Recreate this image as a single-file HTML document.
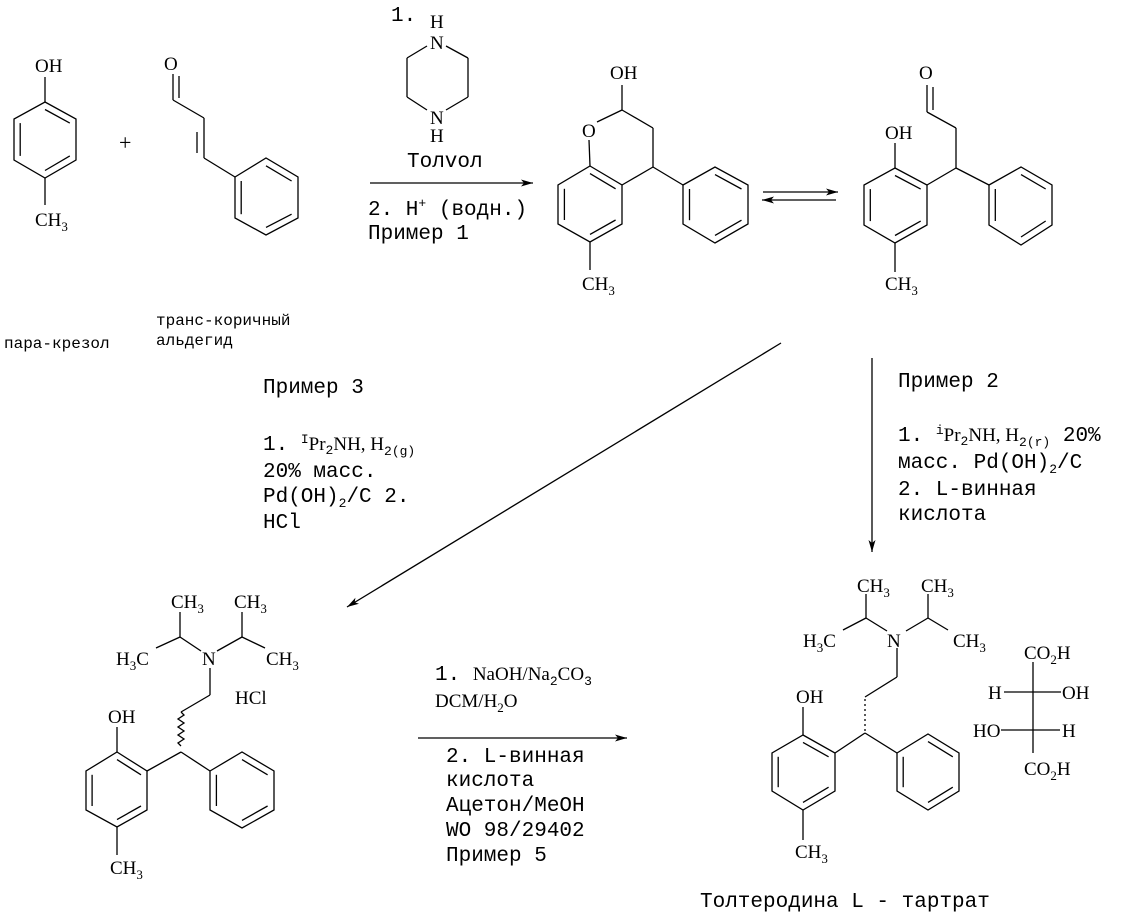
<!DOCTYPE html>
<html><head><meta charset="utf-8"><style>
html,body{margin:0;padding:0;background:#fff;}
svg{display:block;}
.b{stroke:#000;stroke-width:1.3;fill:none;}
.s{font-family:"Liberation Serif",serif;font-size:19px;fill:#000;}
.m{font-family:"Liberation Mono",monospace;font-size:21px;fill:#000;}
.ms{font-family:"Liberation Mono",monospace;font-size:16px;fill:#000;}
.sub{font-size:13px;}
</style></head><body>
<svg width="1135" height="916" viewBox="0 0 1135 916" xmlns="http://www.w3.org/2000/svg">
<defs>
<marker id="ah" markerUnits="userSpaceOnUse" markerWidth="14" markerHeight="8" refX="12" refY="4" orient="auto">
<path d="M0,0.5 L12,4 L0,7.5 L3,4 z" fill="#000"/>
</marker>
</defs>

<!-- para-cresol -->
<g class="b">
<polygon points="45,102 76,119 76,160 45,178 14,160 14,119"/>
<line x1="45" y1="109.5" x2="69.8" y2="123.1"/><line x1="69.8" y1="155.9" x2="45" y2="170.5"/><line x1="20.2" y1="155.9" x2="20.2" y2="123.1"/>
<line x1="45" y1="77" x2="45" y2="102"/><line x1="45" y1="178" x2="45" y2="205"/>
</g>
<text class="s" x="35" y="72">OH</text>
<text class="s" x="35" y="226">CH<tspan class="sub" dy="5">3</tspan></text>
<text class="s" x="119" y="150" style="font-size:22px">+</text>

<!-- cinnamaldehyde -->
<g class="b">
<line x1="173" y1="74" x2="173" y2="100"/><line x1="179" y1="76" x2="179" y2="98"/>
<line x1="173" y1="100" x2="204" y2="118"/><line x1="204" y1="118" x2="204" y2="158"/><line x1="197" y1="132" x2="197" y2="153"/>
<line x1="204" y1="158" x2="235" y2="177"/>
<polygon points="235,177 266,158 298,177 298,218 266,235 235,218"/>
<line x1="266" y1="165.8" x2="291.6" y2="181"/><line x1="291.6" y1="214.2" x2="266" y2="227.4"/><line x1="241.2" y1="214.2" x2="241.2" y2="181"/>
</g>
<text class="s" x="164" y="70">O</text>
<text class="ms" x="156" y="325">транс-коричный</text>
<text class="ms" x="156" y="345">альдегид</text>
<text class="ms" x="4" y="348">пара-крезол</text>

<!-- piperazine reagents -->
<text class="m" x="391" y="21">1.</text>
<text class="s" x="430" y="28">H</text>
<text class="s" x="430" y="49">N</text>
<text class="s" x="430" y="124">N</text>
<text class="s" x="430" y="142">H</text>
<g class="b">
<line x1="446" y1="46" x2="468" y2="58"/><line x1="468" y1="58" x2="468" y2="97"/><line x1="468" y1="97" x2="446" y2="110"/>
<line x1="427" y1="46" x2="407" y2="58"/><line x1="407" y1="58" x2="407" y2="97"/><line x1="407" y1="97" x2="427" y2="110"/>
<line x1="370" y1="183" x2="533" y2="183" marker-end="url(#ah)"/>
</g>
<text class="m" x="407" y="167">Толvол</text>
<text class="m" x="368" y="215">2. H<tspan class="sub" dy="-8">+</tspan><tspan dy="8"> (водн.)</tspan></text>
<text class="m" x="368" y="239">Пример 1</text>

<!-- chromanol -->
<g class="b">
<line x1="622" y1="85" x2="622" y2="110"/>
<line x1="597" y1="122" x2="622" y2="110"/><line x1="622" y1="110" x2="653" y2="128"/><line x1="653" y1="128" x2="653" y2="167"/><line x1="653" y1="167" x2="622" y2="185"/>
<line x1="589" y1="140" x2="590" y2="166"/>
<polygon points="590,166 622,185 622,224 590,242 558,224 558,185"/>
<line x1="590" y1="173.6" x2="615.6" y2="188.8"/><line x1="615.6" y1="220" x2="590" y2="234.4"/><line x1="564.4" y1="220" x2="564.4" y2="188.8"/>
<line x1="590" y1="242" x2="590" y2="270"/>
<line x1="653" y1="167" x2="683" y2="185"/>
<polygon points="683,185 715,167 748,185 748,224 715,243 683,224"/>
<line x1="715" y1="174.6" x2="741.5" y2="189"/><line x1="741.5" y1="220.2" x2="715" y2="235.4"/><line x1="689.5" y1="220.2" x2="689.5" y2="189"/>
</g>
<text class="s" x="610" y="79">OH</text>
<text class="s" x="582" y="137">O</text>
<text class="s" x="582" y="290">CH<tspan class="sub" dy="5">3</tspan></text>

<!-- equilibrium -->
<g class="b">
<line x1="763" y1="192" x2="838" y2="192" marker-end="url(#ah)"/>
<line x1="836" y1="200" x2="762" y2="200" marker-end="url(#ah)"/>
</g>

<!-- open aldehyde -->
<g class="b">
<line x1="927" y1="85" x2="927" y2="112"/><line x1="933" y1="87" x2="933" y2="110"/>
<line x1="927" y1="112" x2="956" y2="128"/><line x1="956" y1="128" x2="956" y2="168"/><line x1="956" y1="168" x2="927" y2="185"/>
<polygon points="895,168 927,185 927,225 895,243 864,225 864,185"/>
<line x1="895" y1="175.5" x2="920.7" y2="189.1"/><line x1="920.7" y1="221.1" x2="895" y2="235.5"/><line x1="870.3" y1="221.1" x2="870.3" y2="189.1"/>
<line x1="895" y1="143" x2="895" y2="168"/><line x1="895" y1="243" x2="895" y2="272"/>
<line x1="956" y1="168" x2="989" y2="185"/>
<polygon points="989,185 1021,167 1052,185 1052,225 1021,245 989,225"/>
<line x1="1021" y1="174.6" x2="1045.7" y2="189"/><line x1="1045.7" y1="221" x2="1021" y2="237"/><line x1="995.3" y1="221" x2="995.3" y2="189"/>
</g>
<text class="s" x="919" y="79">O</text>
<text class="s" x="885" y="139">OH</text>
<text class="s" x="885" y="290">CH<tspan class="sub" dy="5">3</tspan></text>

<!-- arrows to bottom -->
<g class="b">
<line x1="781" y1="343" x2="347" y2="607" marker-end="url(#ah)"/>
<line x1="872" y1="358" x2="872" y2="552" marker-end="url(#ah)"/>
<line x1="418" y1="738" x2="627" y2="738" marker-end="url(#ah)"/>
</g>

<!-- example 3 text -->
<text class="m" x="263" y="393">Пример 3</text>
<text class="m" x="263" y="450">1. <tspan class="sub" dy="-7">I</tspan><tspan class="s" dy="7">Pr</tspan><tspan class="sub" dy="4">2</tspan><tspan class="s" dy="-4">NH, H</tspan><tspan class="sub" dy="5">2(g)</tspan></text>
<text class="m" x="263" y="477">20% масс.</text>
<text class="m" x="263" y="502">Pd(OH)<tspan class="sub" dy="5">2</tspan><tspan dy="-5">/C 2.</tspan></text>
<text class="m" x="263" y="528">HCl</text>

<!-- example 2 text -->
<text class="m" x="898" y="387">Пример 2</text>
<text class="m" x="898" y="441">1. <tspan class="sub" dy="-7">i</tspan><tspan class="s" dy="7">Pr</tspan><tspan class="sub" dy="4">2</tspan><tspan class="s" dy="-4">NH, H</tspan><tspan class="sub" dy="5">2(r)</tspan><tspan dy="-5"> 20%</tspan></text>
<text class="m" x="898" y="468">масс. Pd(OH)<tspan class="sub" dy="5">2</tspan><tspan dy="-5">/C</tspan></text>
<text class="m" x="898" y="495">2. L-винная</text>
<text class="m" x="898" y="520">кислота</text>

<!-- bottom-left molecule -->
<g class="b">
<line x1="180" y1="612" x2="180" y2="637"/><line x1="180" y1="637" x2="156" y2="648"/><line x1="180" y1="637" x2="201" y2="651"/>
<line x1="242" y1="612" x2="242" y2="637"/><line x1="242" y1="637" x2="217" y2="651"/><line x1="242" y1="637" x2="265" y2="648"/>
<line x1="210" y1="668" x2="210" y2="695"/><line x1="210" y1="695" x2="181" y2="712"/>
<path d="M181,712 l3,3 l-6,4 l6,4 l-6,4 l6,4 l-6,4 l6,4 l-6,4 l3,3"/>
<line x1="181" y1="752" x2="147" y2="771"/>
<polygon points="117,752 147,771 147,810 117,827 86,810 86,771"/>
<line x1="117" y1="759.6" x2="141" y2="774.8"/><line x1="141" y1="806" x2="117" y2="819.6"/><line x1="92.1" y1="806" x2="92.1" y2="774.8"/>
<line x1="117" y1="727" x2="117" y2="752"/><line x1="117" y1="827" x2="117" y2="855"/>
<line x1="181" y1="752" x2="210" y2="771"/>
<polygon points="210,771 242,752 274,771 274,810 242,828 210,810"/>
<line x1="242" y1="759.6" x2="267.6" y2="774.8"/><line x1="267.6" y1="806" x2="242" y2="820.4"/><line x1="216.4" y1="806" x2="216.4" y2="774.8"/>
</g>
<text class="s" x="171" y="608">CH<tspan class="sub" dy="5">3</tspan></text>
<text class="s" x="234" y="608">CH<tspan class="sub" dy="5">3</tspan></text>
<text class="s" x="116" y="665">H<tspan class="sub" dy="5">3</tspan><tspan dy="-5">C</tspan></text>
<text class="s" x="202" y="665">N</text>
<text class="s" x="266" y="665">CH<tspan class="sub" dy="5">3</tspan></text>
<text class="s" x="235" y="704">HCl</text>
<text class="s" x="108" y="723">OH</text>
<text class="s" x="110" y="874">CH<tspan class="sub" dy="5">3</tspan></text>

<!-- middle bottom text -->
<text class="m" x="435" y="680">1. <tspan class="s">NaOH/Na</tspan><tspan class="sub" dy="5">2</tspan><tspan class="s" dy="-5">CO</tspan><tspan class="sub" dy="5">3</tspan></text>
<text class="s" x="435" y="707">DCM/H<tspan class="sub" dy="5">2</tspan><tspan dy="-5">O</tspan></text>
<text class="m" x="446" y="762">2. L-винная</text>
<text class="m" x="446" y="786">кислота</text>
<text class="m" x="446" y="811">Ацетон/MeOH</text>
<text class="m" x="446" y="836">WO 98/29402</text>
<text class="m" x="446" y="861">Пример 5</text>

<!-- bottom-right molecule -->
<g class="b">
<line x1="866" y1="594" x2="866" y2="618"/><line x1="866" y1="618" x2="843" y2="630"/><line x1="866" y1="618" x2="887" y2="631"/>
<line x1="928" y1="594" x2="928" y2="618"/><line x1="928" y1="618" x2="906" y2="631"/><line x1="928" y1="618" x2="948" y2="630"/>
<line x1="897" y1="648" x2="897" y2="677"/><line x1="897" y1="677" x2="865" y2="697"/>
<line x1="865" y1="699" x2="865" y2="733" stroke-dasharray="2,3"/>
<line x1="865" y1="733" x2="835" y2="753"/>
<polygon points="803,735 835,753 835,791 803,810 772,791 772,753"/>
<line x1="803" y1="742.4" x2="828.6" y2="756.8"/><line x1="828.6" y1="787.2" x2="803" y2="802.4"/><line x1="778.2" y1="787.2" x2="778.2" y2="756.8"/>
<line x1="803" y1="707" x2="803" y2="735"/><line x1="803" y1="810" x2="803" y2="840"/>
<line x1="865" y1="733" x2="897" y2="753"/>
<polygon points="897,753 928,734 959,753 959,791 928,810 897,791"/>
<line x1="928" y1="741.6" x2="952.8" y2="756.8"/><line x1="952.8" y1="787.2" x2="928" y2="802.4"/><line x1="903.2" y1="787.2" x2="903.2" y2="756.8"/>
<line x1="1033" y1="662" x2="1033" y2="753"/>
<line x1="1004" y1="692" x2="1061" y2="692"/><line x1="1001" y1="730" x2="1060" y2="730"/>
</g>
<text class="s" x="857" y="592">CH<tspan class="sub" dy="5">3</tspan></text>
<text class="s" x="921" y="592">CH<tspan class="sub" dy="5">3</tspan></text>
<text class="s" x="803" y="647">H<tspan class="sub" dy="5">3</tspan><tspan dy="-5">C</tspan></text>
<text class="s" x="887" y="647">N</text>
<text class="s" x="953" y="647">CH<tspan class="sub" dy="5">3</tspan></text>
<text class="s" x="796" y="703">OH</text>
<text class="s" x="795" y="858">CH<tspan class="sub" dy="5">3</tspan></text>
<text class="s" x="1024" y="659">CO<tspan class="sub" dy="5">2</tspan><tspan dy="-5">H</tspan></text>
<text class="s" x="988" y="699">H</text>
<text class="s" x="1062" y="699">OH</text>
<text class="s" x="973" y="737">HO</text>
<text class="s" x="1062" y="737">H</text>
<text class="s" x="1024" y="775">CO<tspan class="sub" dy="5">2</tspan><tspan dy="-5">H</tspan></text>
<text class="m" x="700" y="907">Толтеродина L - тартрат</text>
</svg>
</body></html>
